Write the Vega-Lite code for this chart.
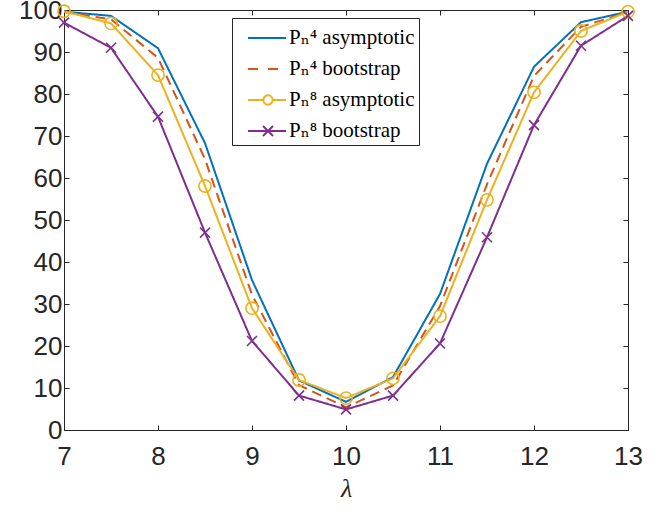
{
  "$schema": "https://vega.github.io/schema/vega-lite/v6.json",
  "autosize": "none",
  "width": 564,
  "height": 420,
  "padding": {"left": 64, "top": 10, "right": 38, "bottom": 84},
  "background": "white",
  "config": {
    "view": {"stroke": "#262626", "strokeWidth": 1},
    "axis": {
      "grid": false,
      "domainColor": "#262626",
      "tickColor": "#262626",
      "labelColor": "#262626",
      "titleColor": "#262626",
      "labelFont": "Liberation Sans",
      "labelFontSize": 26,
      "tickSize": -5,
      "tickWidth": 1
    },
    "legend": {
      "padding": 4,
      "strokeColor": "#262626",
      "fillColor": "white",
      "labelFont": "Liberation Serif, DejaVu Serif, serif",
      "labelFontSize": 21,
      "labelColor": "#000000",
      "symbolSize": 900,
      "symbolStrokeWidth": 2,
      "symbolOpacity": 1,
      "rowPadding": 5,
      "labelOffset": 21
    }
  },
  "data": {
    "values": [
      {"x": 7, "y": 99.6, "series": "Pₙ⁴ asymptotic"},
      {"x": 7.5, "y": 98.6, "series": "Pₙ⁴ asymptotic"},
      {"x": 8, "y": 90.9, "series": "Pₙ⁴ asymptotic"},
      {"x": 8.5, "y": 68.3, "series": "Pₙ⁴ asymptotic"},
      {"x": 9, "y": 35.7, "series": "Pₙ⁴ asymptotic"},
      {"x": 9.5, "y": 11.8, "series": "Pₙ⁴ asymptotic"},
      {"x": 10, "y": 6.7, "series": "Pₙ⁴ asymptotic"},
      {"x": 10.5, "y": 12.6, "series": "Pₙ⁴ asymptotic"},
      {"x": 11, "y": 32.4, "series": "Pₙ⁴ asymptotic"},
      {"x": 11.5, "y": 63.4, "series": "Pₙ⁴ asymptotic"},
      {"x": 12, "y": 86.5, "series": "Pₙ⁴ asymptotic"},
      {"x": 12.5, "y": 97.1, "series": "Pₙ⁴ asymptotic"},
      {"x": 13, "y": 99.6, "series": "Pₙ⁴ asymptotic"},
      {"x": 7, "y": 99.5, "series": "Pₙ⁴ bootstrap"},
      {"x": 7.5, "y": 97.8, "series": "Pₙ⁴ bootstrap"},
      {"x": 8, "y": 88.6, "series": "Pₙ⁴ bootstrap"},
      {"x": 8.5, "y": 64.5, "series": "Pₙ⁴ bootstrap"},
      {"x": 9, "y": 32.2, "series": "Pₙ⁴ bootstrap"},
      {"x": 9.5, "y": 10.7, "series": "Pₙ⁴ bootstrap"},
      {"x": 10, "y": 5.4, "series": "Pₙ⁴ bootstrap"},
      {"x": 10.5, "y": 10.6, "series": "Pₙ⁴ bootstrap"},
      {"x": 11, "y": 29.5, "series": "Pₙ⁴ bootstrap"},
      {"x": 11.5, "y": 58.5, "series": "Pₙ⁴ bootstrap"},
      {"x": 12, "y": 84.3, "series": "Pₙ⁴ bootstrap"},
      {"x": 12.5, "y": 96.0, "series": "Pₙ⁴ bootstrap"},
      {"x": 13, "y": 99.5, "series": "Pₙ⁴ bootstrap"},
      {"x": 7, "y": 99.7, "series": "Pₙ⁸ asymptotic"},
      {"x": 7.5, "y": 96.8, "series": "Pₙ⁸ asymptotic"},
      {"x": 8, "y": 84.5, "series": "Pₙ⁸ asymptotic"},
      {"x": 8.5, "y": 58.1, "series": "Pₙ⁸ asymptotic"},
      {"x": 9, "y": 29.0, "series": "Pₙ⁸ asymptotic"},
      {"x": 9.5, "y": 11.9, "series": "Pₙ⁸ asymptotic"},
      {"x": 10, "y": 7.6, "series": "Pₙ⁸ asymptotic"},
      {"x": 10.5, "y": 12.3, "series": "Pₙ⁸ asymptotic"},
      {"x": 11, "y": 27.1, "series": "Pₙ⁸ asymptotic"},
      {"x": 11.5, "y": 54.8, "series": "Pₙ⁸ asymptotic"},
      {"x": 12, "y": 80.4, "series": "Pₙ⁸ asymptotic"},
      {"x": 12.5, "y": 95.0, "series": "Pₙ⁸ asymptotic"},
      {"x": 13, "y": 99.6, "series": "Pₙ⁸ asymptotic"},
      {"x": 7, "y": 97.0, "series": "Pₙ⁸ bootstrap"},
      {"x": 7.5, "y": 91.0, "series": "Pₙ⁸ bootstrap"},
      {"x": 8, "y": 74.6, "series": "Pₙ⁸ bootstrap"},
      {"x": 8.5, "y": 47.0, "series": "Pₙ⁸ bootstrap"},
      {"x": 9, "y": 21.2, "series": "Pₙ⁸ bootstrap"},
      {"x": 9.5, "y": 8.2, "series": "Pₙ⁸ bootstrap"},
      {"x": 10, "y": 4.9, "series": "Pₙ⁸ bootstrap"},
      {"x": 10.5, "y": 8.2, "series": "Pₙ⁸ bootstrap"},
      {"x": 11, "y": 20.6, "series": "Pₙ⁸ bootstrap"},
      {"x": 11.5, "y": 45.9, "series": "Pₙ⁸ bootstrap"},
      {"x": 12, "y": 72.6, "series": "Pₙ⁸ bootstrap"},
      {"x": 12.5, "y": 91.5, "series": "Pₙ⁸ bootstrap"},
      {"x": 13, "y": 98.6, "series": "Pₙ⁸ bootstrap"}
    ]
  },
  "resolve": {"axis": {"x": "independent", "y": "independent"}},
  "layer": [
    {
      "mark": {"type": "line", "strokeWidth": 2},
      "encoding": {
        "x": {"field": "x", "type": "quantitative", "scale": {"domain": [7, 13], "nice": false, "zero": false},
              "axis": {"title": "λ", "titleFont": "Liberation Serif", "titleFontStyle": "italic", "titleFontWeight": "normal", "titleFontSize": 26, "titlePadding": 6, "values": [7, 8, 9, 10, 11, 12, 13], "labelPadding": 18, "labelFlush": false}},
        "y": {"field": "y", "type": "quantitative", "scale": {"domain": [0, 100], "nice": false},
              "axis": {"title": null, "values": [0, 10, 20, 30, 40, 50, 60, 70, 80, 90, 100], "labelPadding": 7}},
        "color": {"field": "series", "type": "nominal", "legend": null,
                  "scale": {"range": ["#0072BD", "#D95319", "#EDB120", "#7E2F8E"]}},
        "strokeDash": {"field": "series", "type": "nominal", "legend": null,
                  "scale": {"range": [[1, 0], [10, 6], [1, 0], [1, 0]]}},
        "order": {"field": "x", "type": "quantitative"}
      }
    },
    {
      "transform": [{"filter": "datum.series === 'Pₙ⁸ asymptotic'"}],
      "mark": {"type": "point", "shape": "circle", "filled": false, "size": 150, "strokeWidth": 1.6, "opacity": 1},
      "encoding": {
        "x": {"field": "x", "type": "quantitative", "axis": {"orient": "top", "labels": false, "domain": false, "title": null, "values": [7, 8, 9, 10, 11, 12, 13]}},
        "y": {"field": "y", "type": "quantitative", "axis": {"orient": "right", "labels": false, "domain": false, "title": null, "values": [0, 10, 20, 30, 40, 50, 60, 70, 80, 90, 100]}},
        "color": {"field": "series", "type": "nominal", "legend": null}
      }
    },
    {
      "transform": [{"filter": "datum.series === 'Pₙ⁸ bootstrap'"}],
      "mark": {"type": "point", "shape": "M-1,-1L1,1M-1,1L1,-1", "filled": false, "size": 100, "strokeWidth": 1.6, "opacity": 1},
      "encoding": {
        "x": {"field": "x", "type": "quantitative", "axis": null},
        "y": {"field": "y", "type": "quantitative", "axis": null},
        "color": {"field": "series", "type": "nominal", "legend": null}
      }
    },
    {
      "transform": [{"filter": "false"}],
      "mark": {"type": "point", "filled": false, "opacity": 1, "strokeWidth": 2},
      "encoding": {
        "x": {"field": "x", "type": "quantitative", "axis": null},
        "y": {"field": "y", "type": "quantitative", "axis": null},
        "stroke": {"field": "series", "type": "nominal",
                  "legend": {"title": null, "orient": "none", "legendX": 168, "legendY": 8, "labelFont": "Liberation Serif, DejaVu Serif, serif", "labelFontSize": 21, "rowPadding": 5},
                  "scale": {"domain": ["Pₙ⁴ asymptotic", "Pₙ⁴ bootstrap", "Pₙ⁸ asymptotic", "Pₙ⁸ bootstrap"], "range": ["#0072BD", "#D95319", "#EDB120", "#7E2F8E"]}},
        "shape": {"field": "series", "type": "nominal",
                  "legend": {"title": null, "orient": "none", "legendX": 168, "legendY": 8, "labelFont": "Liberation Serif, DejaVu Serif, serif", "labelFontSize": 21, "rowPadding": 5},
                  "scale": {"domain": ["Pₙ⁴ asymptotic", "Pₙ⁴ bootstrap", "Pₙ⁸ asymptotic", "Pₙ⁸ bootstrap"],
                            "range": [
                              "M-0.267,0L2.267,0",
                              "M-0.267,0L0.4,0M1.067,0L1.733,0",
                              "M-0.267,0L0.757,0M1.377,0L2.267,0M1.377,0A0.31,0.31 0 1,1 0.757,0A0.31,0.31 0 1,1 1.377,0",
                              "M-0.267,0L2.267,0M0.734,-0.333L1.4,0.333M0.734,0.333L1.4,-0.333"
                            ]}}
      }
    }
  ]
}
